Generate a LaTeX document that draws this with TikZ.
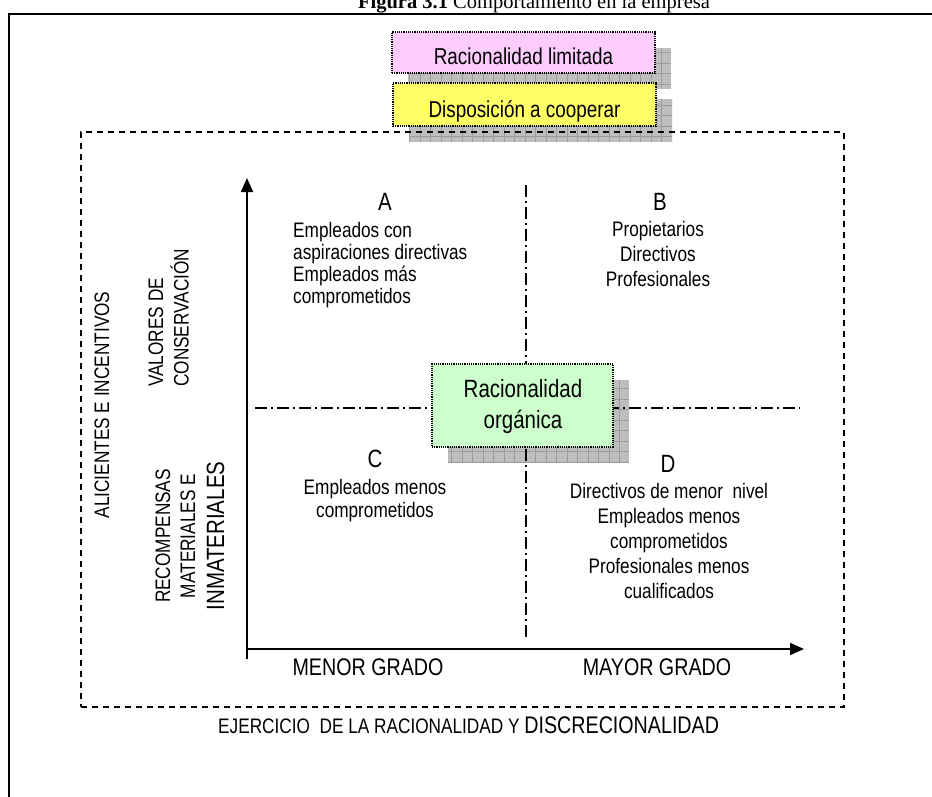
\documentclass[tikz,border=0pt]{standalone}
\usepackage{fontspec}
\setmainfont{Liberation Sans}[FakeStretch=0.82]
\newfontfamily\titlefont{Liberation Serif}
\usetikzlibrary{arrows.meta}
\definecolor{pinkfill}{HTML}{FFCCFF}
\definecolor{yellowfill}{HTML}{FFFF66}
\definecolor{greenfill}{HTML}{CCFFCC}
\definecolor{shadowfill}{HTML}{BEBEBE}
\definecolor{shadowgrid}{HTML}{9A9A9A}
\newcommand{\mkshadow}[4]{%
  \begin{scope}
    \clip (#1,#2) rectangle (#3,#4);
    \fill[shadowfill] (#1,#2) rectangle (#3,#4);
    \draw[shadowgrid, line width=0.6pt, step=10.5pt] (#1,#2) grid (#3,#4);
  \end{scope}}
\tikzset{
  boxstyle/.style={draw, densely dotted, line width=1.2pt, inner sep=0pt},
  body/.style={font=\fontsize{21}{22}\selectfont, inner sep=0pt},
  quadlabel/.style={font=\fontsize{25}{28}\selectfont, inner sep=0pt, anchor=base},
  dashdot/.style={line width=1.5pt, dash pattern=on 12pt off 4pt on 2pt off 4pt},
  axis/.style={line width=1.8pt, -{Triangle[length=14pt,width=12pt]}},
}
\begin{document}
\begin{tikzpicture}[x=1pt,y=-1pt]
\useasboundingbox (0,0) rectangle (932,796);
% outer frame and title
\draw[line width=2.2pt] (9,800) -- (9,14) -- (940,14);
\node[anchor=base, inner sep=0pt] (title) at (534,8)
  {\titlefont\fontsize{20.5}{24}\selectfont\textbf{Figura 3.1} Comportamiento en la empresa};
% shadows
\mkshadow{408}{48}{671}{89}
\mkshadow{409}{99}{672}{142}
\mkshadow{448}{380}{629}{463}
% dashed frame
\node[draw, line width=1.4pt, dash pattern=on 6pt off 5pt, inner sep=0pt,
      minimum width=763pt, minimum height=575pt] (frame) at (462.5,419.5) {};
% quadrant dividers
\coordinate (vdtop) at (526,185);
\coordinate (vdbot) at (526,640);
\coordinate (hdleft) at (255,408);
\coordinate (hdright) at (800,408);
\draw[dashdot] (vdtop) -- (vdbot);
\draw[dashdot] (hdleft) -- (hdright);
% axes
\coordinate (vbot) at (247,659);
\coordinate (vtop) at (247,178);
\coordinate (hleft) at (246,649);
\coordinate (hright) at (804,649);
\draw[axis] (vbot) -- (vtop);
\draw[axis] (hleft) -- (hright);
% boxes
\node[boxstyle, fill=pinkfill, minimum width=263pt, minimum height=41pt] (pinkbox) at (523.5,52.5) {};
\node[boxstyle, fill=yellowfill, minimum width=263pt, minimum height=43pt] (yellowbox) at (524.5,104.5) {};
\node[boxstyle, fill=greenfill, minimum width=181pt, minimum height=83pt] (greenbox) at (522.5,405.5) {};
% box texts
\node[anchor=base, inner sep=0pt, font=\fontsize{23}{26}\selectfont] (pinktext) at (523.5,64) {Racionalidad limitada};
\node[anchor=base, inner sep=0pt, font=\fontsize{23}{26}\selectfont] (yellowtext) at (524.5,117) {Disposición a cooperar};
\node[anchor=base, inner sep=0pt, font=\fontsize{25}{31}\selectfont] (greentext) at (523,397)
  {\begin{tabular}[t]{@{}c@{}}Racionalidad\\orgánica\end{tabular}};
% quadrant labels
\node[quadlabel] (qa) at (385,210) {A};
\node[quadlabel] (qb) at (660,210) {B};
\node[quadlabel] (qc) at (375,467) {C};
\node[quadlabel] (qd) at (668,472) {D};
\node[body, anchor=base west] (ta) at (293,237)
  {\begin{tabular}[t]{@{}l@{}}Empleados con\\aspiraciones directivas\\Empleados más\\comprometidos\end{tabular}};
\node[body, anchor=base, font=\fontsize{21}{25}\selectfont] (tb) at (658,236)
  {\begin{tabular}[t]{@{}c@{}}Propietarios\\Directivos\\Profesionales\end{tabular}};
\node[body, anchor=base, font=\fontsize{21}{23}\selectfont] (tc) at (375,494)
  {\begin{tabular}[t]{@{}c@{}}Empleados menos\\comprometidos\end{tabular}};
\node[body, anchor=base, font=\fontsize{21}{25}\selectfont] (td) at (669,498)
  {\begin{tabular}[t]{@{}c@{}}Directivos de menor\ \ nivel\\Empleados menos\\comprometidos\\Profesionales menos\\cualificados\end{tabular}};
% axis labels
\node[anchor=base, inner sep=0pt, font=\fontsize{24}{26}\selectfont] (menor) at (368,675) {MENOR GRADO};
\node[anchor=base, inner sep=0pt, font=\fontsize{24}{26}\selectfont] (mayor) at (657,675) {MAYOR GRADO};
\node[anchor=base west, inner sep=0pt, font=\fontsize{21}{24}\selectfont] (ejercicio) at (218,733)
  {EJERCICIO\ \ DE LA RACIONALIDAD Y {\fontsize{24}{26}\selectfont DISCRECIONALIDAD}};
\node[rotate=90, anchor=base, inner sep=0pt, font=\fontsize{21}{24}\selectfont] (alicientes) at (109,405)
  {ALICIENTES E INCENTIVOS};
\node[rotate=90, anchor=base west, inner sep=0pt, font=\fontsize{21}{25}\selectfont] (valores) at (163,387)
  {\begin{tabular}[t]{@{}l@{}}VALORES DE\\CONSERVACIÓN\end{tabular}};
\node[rotate=90, anchor=base, inner sep=0pt, font=\fontsize{21}{24}\selectfont] (recomp) at (170,536) {RECOMPENSAS};
\node[rotate=90, anchor=base, inner sep=0pt, font=\fontsize{21}{24}\selectfont] (mater) at (195,536) {MATERIALES E};
\node[rotate=90, anchor=base, inner sep=0pt, font=\fontsize{25}{28}\selectfont] (inmater) at (224,536) {INMATERIALES};
\end{tikzpicture}
\end{document}
